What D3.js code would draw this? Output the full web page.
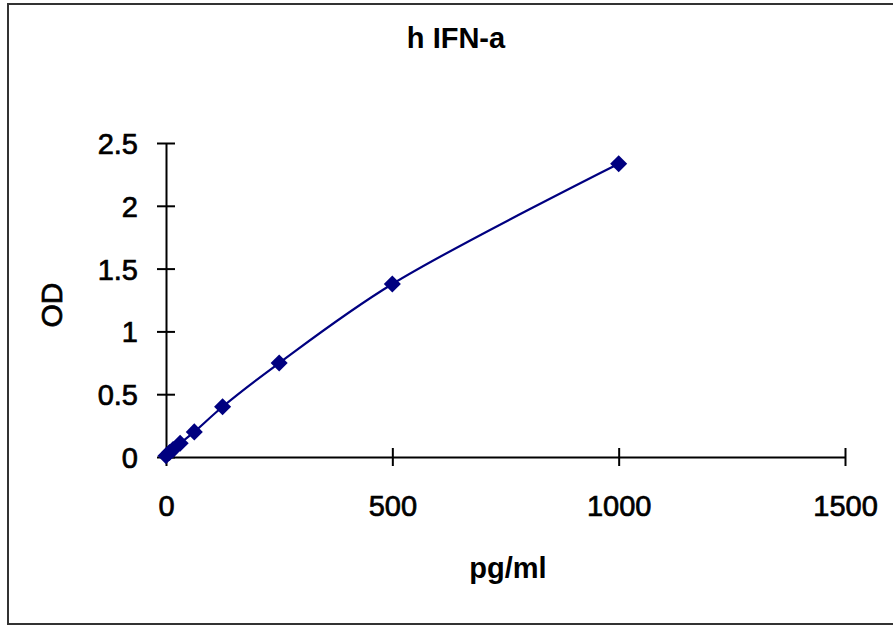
<!DOCTYPE html>
<html>
<head>
<meta charset="utf-8">
<script src="https://cdn.jsdelivr.net/npm/d3@7"></script>
<style>
    body { margin: 0; background: #fff; }
    svg { display: block; font-family: Arial, "Liberation Sans", sans-serif; }
</style>
</head>
<body>
<div id="chart"></div>
<script>
// standard curve readings
const concentrations = [0, 7.8, 15.6, 31.25, 62.5, 125, 250, 500, 1000];
const odValues = [0.01, 0.035, 0.06, 0.11, 0.2, 0.4, 0.748, 1.377, 2.335];
const xTicks = [0, 500, 1000, 1500];
const yTicks = [0, 0.5, 1, 1.5, 2, 2.5];

const width = 893, height = 626;
const navy = "#000080";

let svg = d3.select("#chart")
    .append("svg")
    .attr("width", width)
    .attr("height", height);

// chart frame
svg.append("rect")
    .attr("x", 8)
    .attr("y", 4)
    .attr("width", 900)
    .attr("height", 620)
    .attr("fill", "none")
    .attr("stroke", "#333")
    .attr("stroke-width", 2);

let x = d3.scaleLinear().domain([0, 1500]).range([166, 845]);
let y = d3.scaleLinear().domain([0, 2.5]).range([457, 143]);

// x axis, ticks crossing the line
let xAxis = svg.append("g")
    .attr("transform", `translate(0,${y(0)})`)
    .call(d3.axisBottom(x).tickValues(xTicks).tickSizeInner(9).tickSizeOuter(0).tickFormat(d3.format("d")));
xAxis.select(".domain").attr("stroke", "#000").attr("stroke-width", 2);
xAxis.selectAll(".tick line").attr("y1", -9).attr("stroke", "#000").attr("stroke-width", 2);
xAxis.selectAll(".tick text")
    .attr("y", 59)
    .attr("dy", 0)
    .attr("fill", "#000")
    .attr("stroke", "#000")
    .attr("stroke-width", 0.7)
    .style("font-size", "29px");

let yAxis = svg.append("g")
    .attr("transform", `translate(${x(0)},0)`)
    .call(d3.axisLeft(y).tickValues(yTicks).tickSizeInner(9).tickSizeOuter(0).tickFormat(d => d));
yAxis.select(".domain").attr("stroke", "#000").attr("stroke-width", 2);
yAxis.selectAll(".tick line").attr("x1", 9).attr("stroke", "#000").attr("stroke-width", 2);
yAxis.selectAll(".tick text")
    .attr("x", -28)
    .attr("dy", "0.36em")
    .attr("fill", "#000")
    .attr("stroke", "#000")
    .attr("stroke-width", 0.7)
    .style("font-size", "29px");

// titles
svg.append("text")
    .attr("x", 456)
    .attr("y", 48)
    .attr("text-anchor", "middle")
    .style("font-size", "29px")
    .style("font-weight", "bold")
    .text("h IFN-a");

svg.append("text")
    .attr("x", 508)
    .attr("y", 578)
    .attr("text-anchor", "middle")
    .style("font-size", "29px")
    .style("font-weight", "bold")
    .text("pg/ml");

svg.append("text")
    .attr("transform", "translate(62,305) rotate(-90)")
    .attr("text-anchor", "middle")
    .attr("stroke", "#000")
    .attr("stroke-width", 0.7)
    .style("font-size", "30px")
    .text("OD");

// smoothed standard curve
let pts = concentrations.map((c, i) => [c, odValues[i]]);
let line = d3.line()
    .x(d => x(d[0]))
    .y(d => y(d[1]))
    .curve(d3.curveCatmullRom);

svg.append("path")
    .datum(pts)
    .attr("d", line)
    .attr("fill", "none")
    .attr("stroke", navy)
    .attr("stroke-width", 2.2);

// diamond markers
svg.selectAll(".dot")
    .data(pts)
    .join("path")
    .attr("class", "dot")
    .attr("d", d3.symbol().type(d3.symbolSquare).size(145))
    .attr("transform", d => `translate(${x(d[0])},${y(d[1])}) rotate(45)`)
    .attr("fill", navy);
</script>
</body>
</html>
